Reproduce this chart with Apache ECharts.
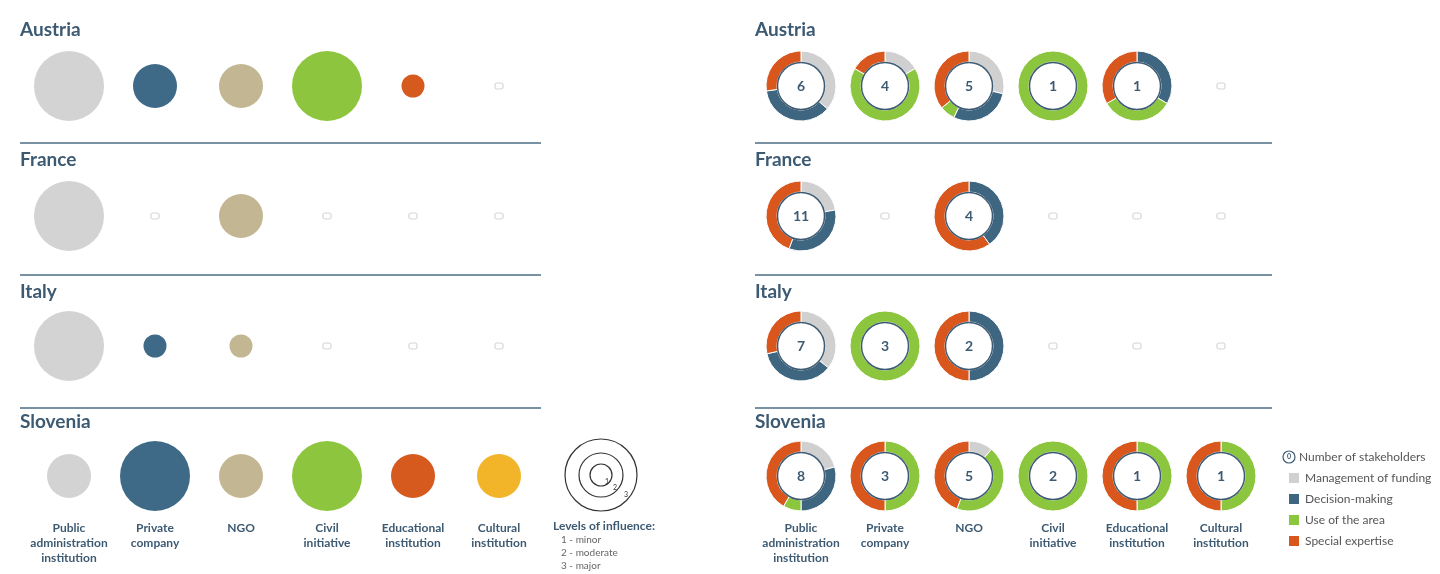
<!DOCTYPE html>
<html>
<head>
<meta charset="utf-8">
<title>Stakeholders by country</title>
<script src="https://cdn.jsdelivr.net/npm/echarts@6/dist/echarts.min.js"></script>
<style>
  html, body { margin: 0; padding: 0; background: #fff; }
  #chart { width: 1440px; height: 574px; }
</style>
</head>
<body>
<div id="chart"></div>
<script>
// columns and rows
const categories = ['Public administration institution', 'Private company', 'NGO', 'Civil initiative', 'Educational institution', 'Cultural institution']
const countries = ['Austria', 'France', 'Italy', 'Slovenia']

// level of influence (0 = none, 1 minor, 2 moderate, 3 major)
const influenceAustria = [3, 2, 2, 3, 1, 0]
const influenceFrance = [3, 0, 2, 0, 0, 0]
const influenceItaly = [3, 1, 1, 0, 0, 0]
const influenceSlovenia = [2, 3, 2, 3, 2, 2]

// number of stakeholders
const stakeholdersAustria = [6, 4, 5, 1, 1, 0]
const stakeholdersFrance = [11, 0, 4, 0, 0, 0]
const stakeholdersItaly = [7, 3, 2, 0, 0, 0]
const stakeholdersSlovenia = [8, 3, 5, 2, 1, 1]

// roles: [management, decision, use, expertise]
const roleNames = ['Management of funding', 'Decision-making', 'Use of the area', 'Special expertise']
const rolesAustria = [[4, 4, 0, 3], [1, 0, 4, 1], [4, 4, 1, 5], [0, 0, 1, 0], [0, 1, 1, 1], [0, 0, 0, 0]]
const rolesFrance = [[2, 3, 0, 4], [0, 0, 0, 0], [0, 2, 0, 3], [0, 0, 0, 0], [0, 0, 0, 0], [0, 0, 0, 0]]
const rolesItaly = [[5, 5, 0, 4], [0, 0, 1, 0], [0, 1, 0, 1], [0, 0, 0, 0], [0, 0, 0, 0], [0, 0, 0, 0]]
const rolesSlovenia = [[5, 7, 2, 10], [0, 0, 1, 1], [1, 0, 4, 4], [0, 0, 1, 0], [0, 0, 1, 1], [0, 0, 1, 1]]

const influenceRows = [influenceAustria, influenceFrance, influenceItaly, influenceSlovenia]
const stakeholderRows = [stakeholdersAustria, stakeholdersFrance, stakeholdersItaly, stakeholdersSlovenia]
const roleRows = [rolesAustria, rolesFrance, rolesItaly, rolesSlovenia]

const typeColors = ['#d3d3d3', '#3e6a87', '#c2b792', '#8dc63e', '#d65a1e', '#f2b52a']
const roleColors = ['#d0d0d0', '#3e6680', '#8cc63f', '#d9561c']
const levelSize = [7, 23, 44, 70]
const dark = '#3d5a73'
const font = 'Lato'
const emptyStyle = { color: 'rgba(0,0,0,0)', borderColor: '#d4d4d4', borderWidth: 1, opacity: 1 }

const chart = echarts.init(document.getElementById('chart'))

// left: bubbles
const bubbleData = []
influenceRows.forEach((row, r) => {
  row.forEach((lv, c) => {
    bubbleData.push({
      value: [c, r],
      symbol: lv ? 'circle' : 'roundRect',
      symbolSize: lv ? levelSize[lv] : [8, 6],
      itemStyle: lv ? { color: typeColors[c], opacity: 1 } : emptyStyle
    })
  })
})

// right: the hole of each donut, with the count
const holeData = []
stakeholderRows.forEach((row, r) => {
  row.forEach((n, c) => {
    holeData.push({
      value: [c, r, n],
      symbol: n ? 'circle' : 'roundRect',
      symbolSize: n ? 47 : [8, 6],
      itemStyle: n ? { color: '#fff', borderColor: dark, borderWidth: 1.5, opacity: 1 } : emptyStyle,
      label: { show: n > 0 }
    })
  })
})

function xAxisFor(gridIndex) {
  return {
    type: 'category', gridIndex: gridIndex, data: categories,
    offset: -20,
    axisLine: { show: false }, axisTick: { show: false },
    axisLabel: {
      margin: 0, interval: 0, verticalAlign: 'top',
      fontFamily: font, fontSize: 12, fontWeight: 'bold', color: dark, lineHeight: 15,
      formatter: v => v.split(' ').join('\n')
    }
  }
}
function yAxisFor(gridIndex) {
  return { type: 'category', gridIndex: gridIndex, data: countries, inverse: true, show: false }
}

const titles = []
const titleTops = [20, 150, 282, 412]
countries.forEach((c, i) => {
  [20, 755].forEach(x => {
    titles.push({ text: c, left: x, top: titleTops[i], padding: 0,
      textStyle: { fontFamily: font, fontSize: 19, fontWeight: 'bold', color: dark } })
  })
})

const graphics = []
;[143, 275, 408].forEach(y => {
  graphics.push({ type: 'line', shape: { x1: 20, y1: y, x2: 541, y2: y }, style: { stroke: '#4d6e85', lineWidth: 1.5 }, silent: true })
  graphics.push({ type: 'line', shape: { x1: 755, y1: y, x2: 1272, y2: y }, style: { stroke: '#4d6e85', lineWidth: 1.5 }, silent: true })
})
// levels of influence key
;[36, 22, 11].forEach(r => {
  graphics.push({ type: 'circle', shape: { cx: 601, cy: 475, r: r }, style: { fill: 'none', stroke: '#333', lineWidth: 1.2 } })
})
graphics.push({ type: 'text', x: 605, y: 478, style: { text: '1', fontSize: 7, fill: '#333', fontFamily: font } })
graphics.push({ type: 'text', x: 613, y: 484, style: { text: '2', fontSize: 7, fill: '#333', fontFamily: font } })
graphics.push({ type: 'text', x: 624, y: 491, style: { text: '3', fontSize: 7, fill: '#333', fontFamily: font } })
graphics.push({ type: 'text', x: 553, y: 520, style: { text: 'Levels of influence:', fontSize: 12, fontWeight: 'bold', fill: dark, fontFamily: font } })
;['1 - minor', '2 - moderate', '3 - major'].forEach((t, i) => {
  graphics.push({ type: 'text', x: 561, y: 535 + i * 13, style: { text: t, fontSize: 10, fill: '#666', fontFamily: font } })
})
// number of stakeholders key
graphics.push({ type: 'circle', shape: { cx: 1289, cy: 457, r: 6 }, style: { fill: '#fff', stroke: dark, lineWidth: 1.2 } })
graphics.push({ type: 'text', x: 1289, y: 457, style: { text: '0', fontSize: 7, fontWeight: 'bold', fill: dark, align: 'center', verticalAlign: 'middle', fontFamily: font } })
graphics.push({ type: 'text', x: 1299, y: 457, style: { text: 'Number of stakeholders', fontSize: 12, fill: '#555', verticalAlign: 'middle', fontFamily: font } })

const baseSeries = [
  {
    type: 'scatter', xAxisIndex: 0, yAxisIndex: 0, data: bubbleData, silent: true, z: 2
  },
  {
    type: 'scatter', xAxisIndex: 1, yAxisIndex: 1, data: holeData, silent: true, z: 5,
    label: {
      position: 'inside', formatter: p => p.value[2],
      fontFamily: font, fontSize: 14, fontWeight: 'bold', color: dark
    }
  }
]

chart.setOption({
  animation: false,
  backgroundColor: '#fff',
  title: titles,
  grid: [
    { left: 26, top: 21, width: 516, height: 520 },
    { left: 759, top: 21, width: 504, height: 520 }
  ],
  xAxis: [xAxisFor(0), xAxisFor(1)],
  yAxis: [yAxisFor(0), yAxisFor(1)],
  legend: {
    orient: 'vertical', left: 1282, top: 466, icon: 'rect', itemWidth: 12, itemHeight: 12, itemGap: 7,
    selectedMode: false, data: roleNames,
    textStyle: { fontFamily: font, fontSize: 12, color: '#555' }
  },
  graphic: graphics,
  series: baseSeries
})

// donuts placed on the right grid's category scale
const pies = []
roleRows.forEach((row, r) => {
  row.forEach((roles, c) => {
    const total = roles.reduce((a, b) => a + b, 0)
    if (!total) return
    const center = chart.convertToPixel({ gridIndex: 1 }, [c, r])
    pies.push({
      type: 'pie', center: center, radius: [24, 35], silent: true, z: 3,
      label: { show: false }, labelLine: { show: false },
      itemStyle: { borderColor: '#fff', borderWidth: 1 },
      data: roles.map((v, k) => ({ name: roleNames[k], value: v, itemStyle: { color: roleColors[k] } }))
        .filter(d => d.value > 0)
    })
  })
})

chart.setOption({ series: baseSeries.concat(pies) })
</script>
</body>
</html>
